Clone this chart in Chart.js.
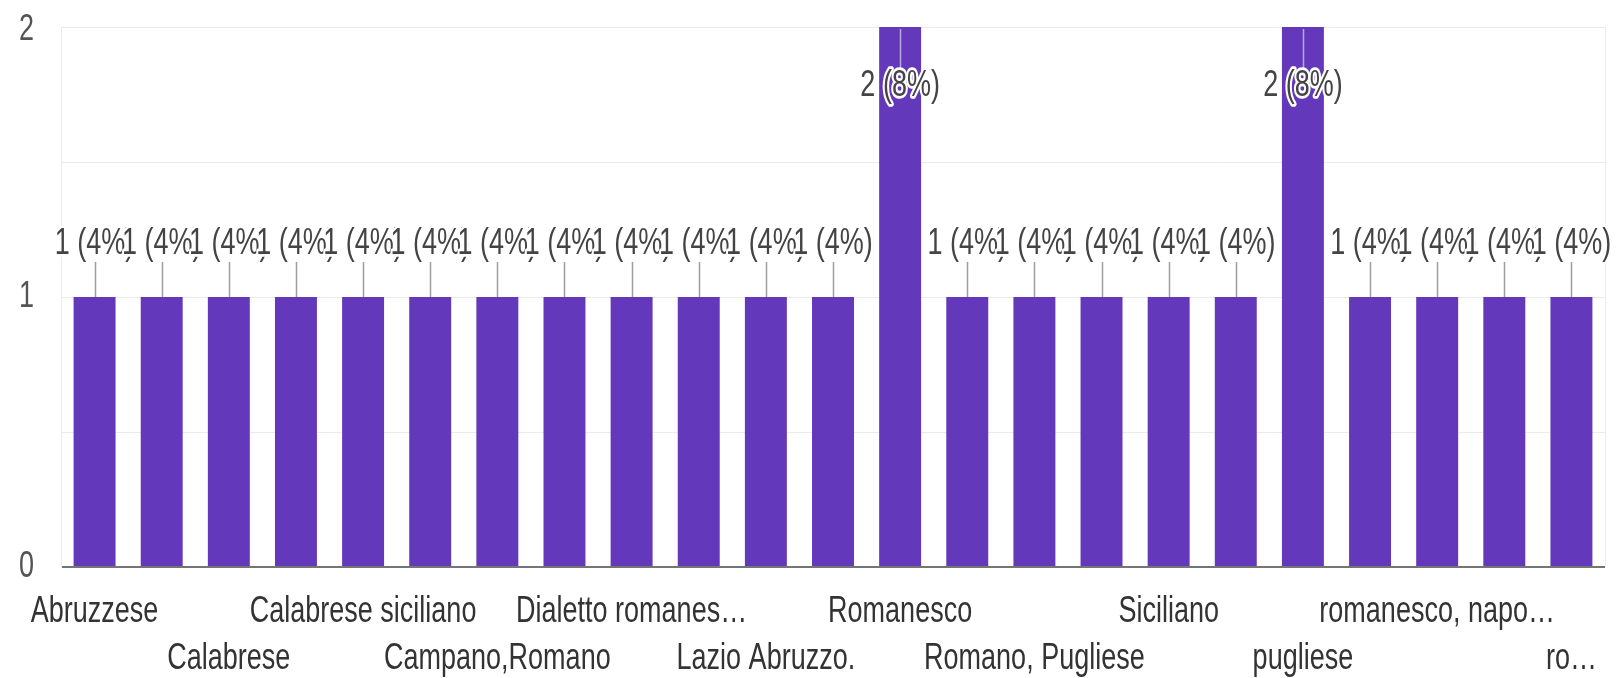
<!DOCTYPE html>
<html>
<head>
<meta charset="utf-8">
<script src="https://cdn.jsdelivr.net/npm/chart.js@4.4.1/dist/chart.umd.min.js"></script>
<style>
  html, body { margin: 0; padding: 0; background: #ffffff; }
  #wrap { width: 1621px; height: 678px; position: relative; }
</style>
</head>
<body>
<div id="wrap"><canvas id="c" width="1621" height="678"></canvas></div>
<script>
// ---- data ----
const categories = [
  'Abruzzese', '', 'Calabrese', '', 'Calabrese siciliano', '', 'Campano,Romano', '',
  'Dialetto romanes…', '', 'Lazio Abruzzo.', '', 'Romanesco', '', 'Romano, Pugliese', '',
  'Siciliano', '', 'pugliese', '', 'romanesco, napo…', '', 'ro…'
];
const counts   = [1,1,1,1,1,1,1,1,1,1,1,1,2,1,1,1,1,1,2,1,1,1,1];
const percents = [4,4,4,4,4,4,4,4,4,4,4,4,8,4,4,4,4,4,8,4,4,4,4];
const yTickValues = [0, 1, 2];

// ---- styling ----
const FONT = '27px "Liberation Sans", Arial, sans-serif';
const SY = 1.37;           // vertical stretch of the text in the reference
const BAR = '#6338ba';

function stretchedText(ctx, text, x, y, align, color, halo) {
  ctx.save();
  ctx.translate(x, y);
  ctx.scale(1, SY);
  ctx.font = FONT;
  ctx.textAlign = align;
  ctx.textBaseline = 'middle';
  if (halo) {
    ctx.lineJoin = 'round';
    ctx.lineWidth = 4;
    ctx.strokeStyle = '#ffffff';
    ctx.strokeText(text, 0, 0);
  }
  ctx.fillStyle = color;
  ctx.fillText(text, 0, 0);
  ctx.restore();
}

const textPlugin = {
  id: 'textPlugin',
  afterDatasetsDraw(chart) {
    const ctx = chart.ctx;
    const area = chart.chartArea;
    const meta = chart.getDatasetMeta(0);
    const xs = chart.scales.x, ys = chart.scales.y;

    // right frame line
    ctx.save();
    ctx.strokeStyle = '#ececec';
    ctx.lineWidth = 1;
    ctx.beginPath();
    ctx.moveTo(area.right + 0.5, area.top);
    ctx.lineTo(area.right + 0.5, area.bottom);
    ctx.stroke();
    ctx.restore();

    // annotation positions + leader lines
    const pos = meta.data.map((el, i) => {
      const top = el.y;
      let ly, l0, l1, lc;
      if (top - 53 - 17 >= area.top) { ly = top - 53; l0 = ly + 18; l1 = top; lc = '#9e9e9e'; }
      else { ly = top + 59; l0 = top + 2; l1 = ly - 18; lc = '#b9a8e0'; }
      return { x: el.x, ly, l0, l1, lc };
    });
    pos.forEach(p => {
      ctx.save();
      ctx.strokeStyle = p.lc;
      ctx.lineWidth = 1.5;
      ctx.beginPath();
      ctx.moveTo(Math.round(p.x) + 0.5, p.l0);
      ctx.lineTo(Math.round(p.x) + 0.5, p.l1);
      ctx.stroke();
      ctx.restore();
    });
    pos.forEach((p, i) => {
      stretchedText(ctx, counts[i] + ' (' + percents[i] + '%)', p.x, p.ly, 'center', '#444444', true);
    });

    // y tick labels (kept inside the canvas at the top)
    yTickValues.forEach(v => {
      const y = Math.max(ys.getPixelForValue(v), 30);
      stretchedText(ctx, String(v), 34, y, 'right', '#555555', false);
    });

    // category labels, every other one, on two alternating rows
    categories.forEach((lab, i) => {
      if (i % 2 !== 0 || !lab) return;
      const row = (i / 2) % 2;
      const y = row === 0 ? 612 : 659;
      stretchedText(ctx, lab, xs.getPixelForValue(i), y, 'center', '#333333', false);
    });
  }
};

new Chart(document.getElementById('c'), {
  type: 'bar',
  data: {
    labels: categories,
    datasets: [{
      data: counts,
      backgroundColor: BAR,
      borderWidth: 0,
      barPercentage: 0.625,
      categoryPercentage: 1.0
    }]
  },
  options: {
    responsive: false,
    animation: false,
    devicePixelRatio: 1,
    layout: { padding: { left: 61, right: 16, top: 27, bottom: 111 } },
    plugins: { legend: { display: false }, tooltip: { enabled: false } },
    scales: {
      x: { display: false, offset: true },
      y: {
        min: 0, max: 2,
        afterFit(s) { s.width = 0; },
        ticks: { display: false, stepSize: 0.5 },
        grid: {
          drawTicks: false,
          color: c => c.tick.value === 0 ? '#757575' : '#ebebeb',
          lineWidth: c => c.tick.value === 0 ? 2 : 1
        },
        border: { display: true, color: '#ebebeb', width: 1 }
      }
    }
  },
  plugins: [textPlugin]
});
</script>
</body>
</html>
